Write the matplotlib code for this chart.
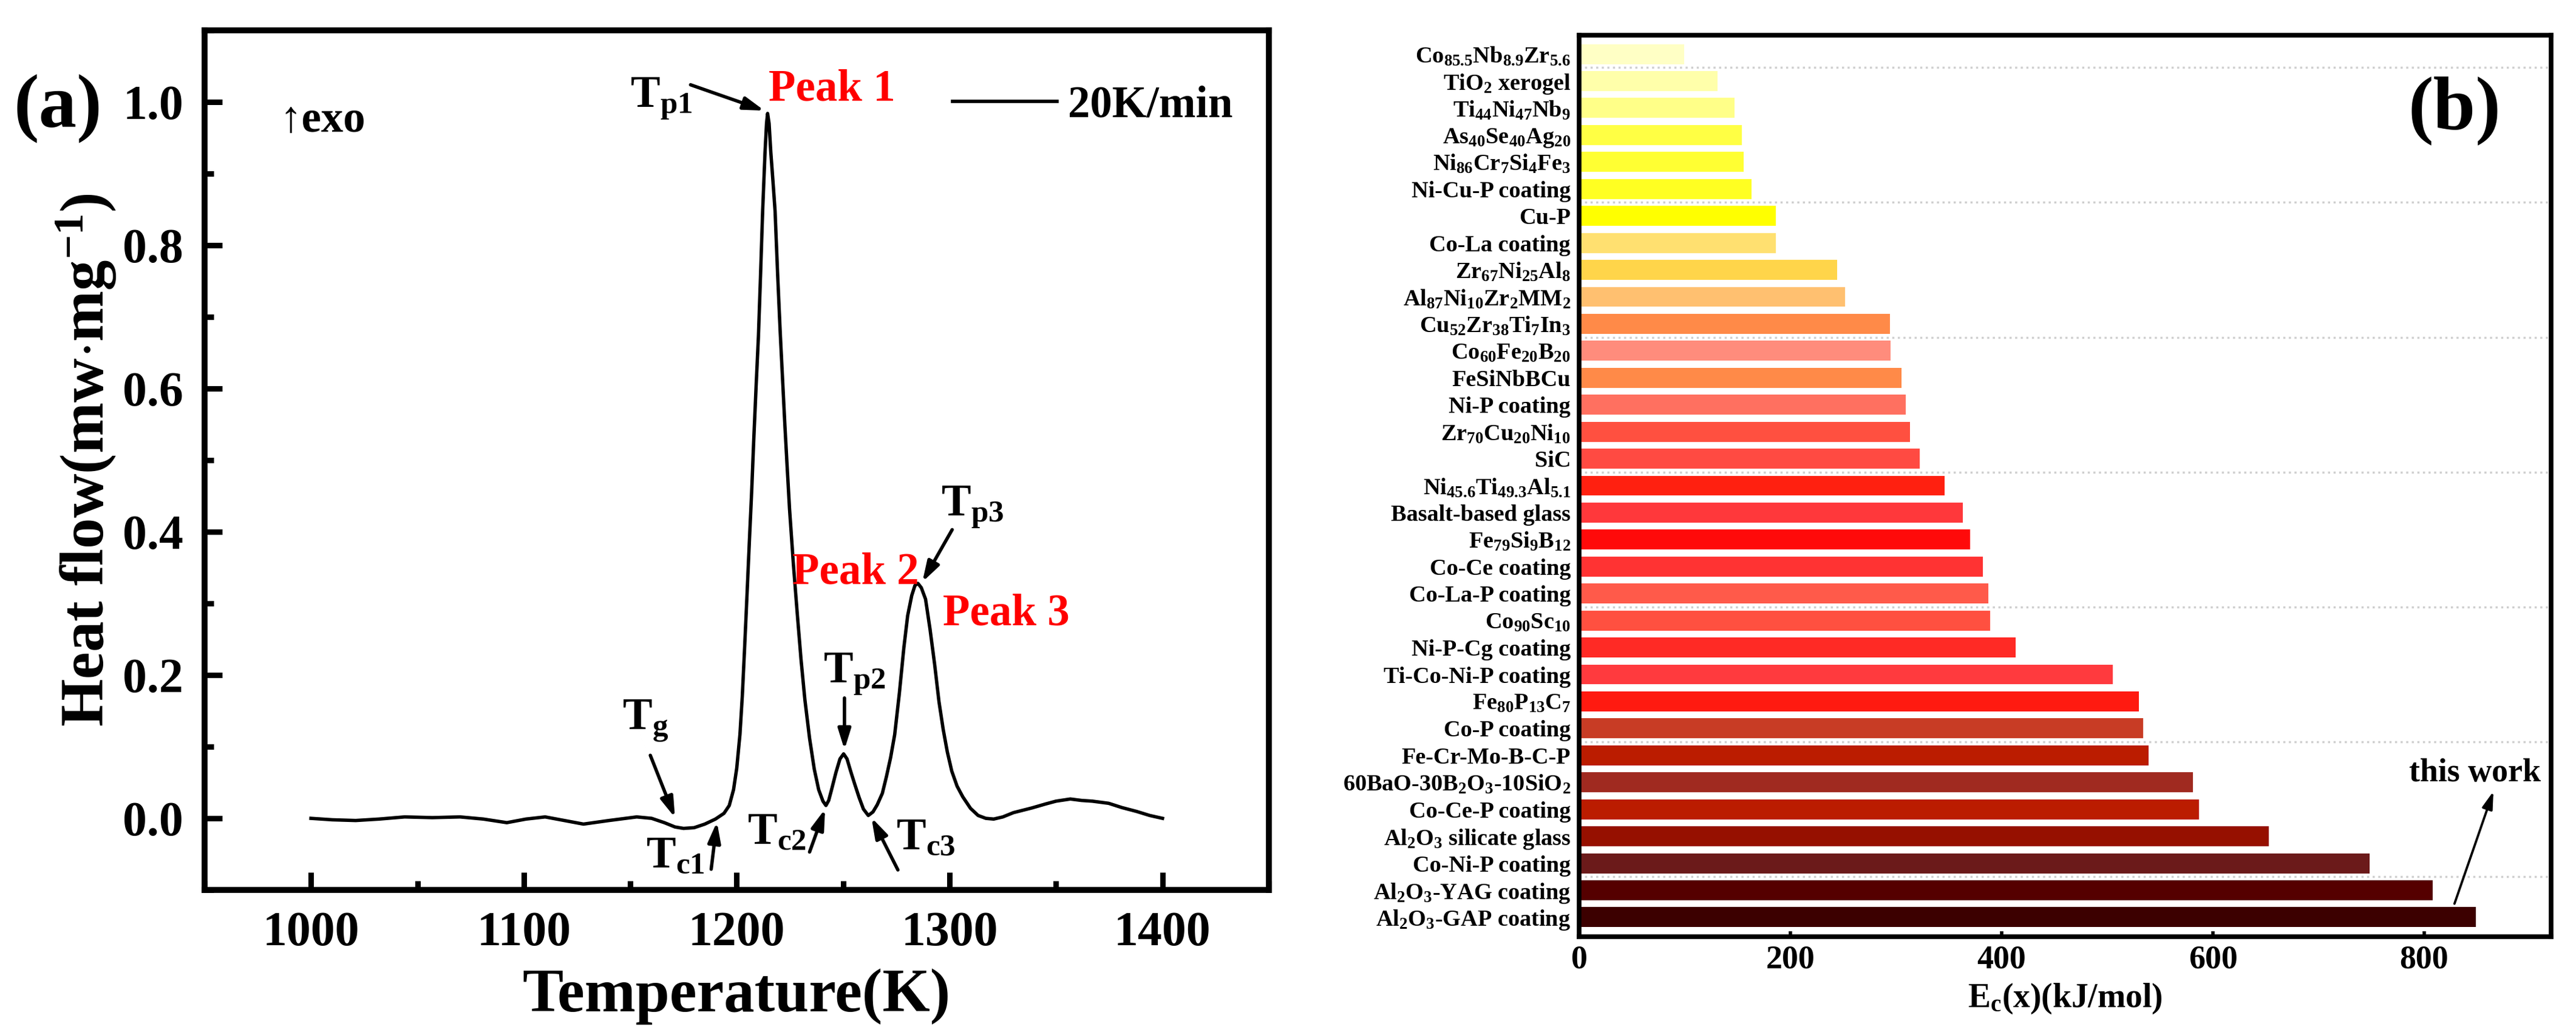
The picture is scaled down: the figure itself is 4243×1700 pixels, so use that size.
import numpy as np
import matplotlib
matplotlib.use('Agg')
import matplotlib.pyplot as plt
from matplotlib.ticker import MultipleLocator, FixedLocator

plt.rcParams['font.family'] = ['Liberation Serif', 'DejaVu Serif']
plt.rcParams['font.weight'] = 'bold'
plt.rcParams['axes.labelweight'] = 'bold'
plt.rcParams['mathtext.fontset'] = 'custom'
plt.rcParams['mathtext.rm'] = 'Liberation Serif:bold'
plt.rcParams['mathtext.it'] = 'Liberation Serif:bold'
plt.rcParams['mathtext.bf'] = 'Liberation Serif:bold'
plt.rcParams['mathtext.default'] = 'rm'

# ---- (a) DSC curve ----
temp = [1000, 1010, 1021, 1032, 1044, 1057, 1070, 1081, 1092, 1101, 1110, 1119, 1128,
        1140, 1153, 1160, 1166, 1171, 1175, 1180, 1185, 1190, 1194, 1196.5, 1198.5,
        1200, 1201.5, 1202.6, 1203.7, 1204.8, 1205.9, 1207, 1208, 1209.2, 1210.2,
        1211.2, 1212.2, 1213.3, 1214, 1214.5, 1215.2, 1216, 1217, 1218, 1219.2,
        1220.4, 1221.5, 1222.6, 1223.7, 1224.8, 1226.6, 1228.4, 1230.2, 1232,
        1234.2, 1236.4, 1238.5, 1240.5, 1241.9, 1243.2, 1244.8, 1246.6, 1248.5,
        1250.2, 1251.8, 1253.5, 1255.3, 1257.5, 1259.5, 1261.8, 1264, 1266, 1268.4,
        1270.3, 1272.3, 1274.2, 1276.4, 1278.5, 1280.3, 1282.2, 1283.7, 1285.1,
        1286.7, 1288.7, 1290.8, 1293, 1295, 1297, 1298.9, 1301, 1303.5, 1306.2,
        1309.8, 1313.4, 1317, 1320.7, 1325, 1330, 1338.6, 1345, 1350, 1356.7,
        1362, 1367, 1374.7, 1381, 1387.8, 1394, 1400]
heat = [0.000, -0.002, -0.003, -0.001, 0.002, 0.001, 0.002, -0.001, -0.006, -0.001,
        0.002, -0.003, -0.008, -0.003, 0.002, 0.000, -0.006, -0.012, -0.014, -0.013,
        -0.008, -0.001, 0.007, 0.018, 0.040, 0.070, 0.117, 0.170, 0.238, 0.310,
        0.384, 0.455, 0.529, 0.610, 0.674, 0.760, 0.850, 0.930, 0.970, 0.984,
        0.970, 0.930, 0.890, 0.848, 0.760, 0.680, 0.615, 0.550, 0.490, 0.432,
        0.355, 0.287, 0.222, 0.166, 0.112, 0.069, 0.040, 0.024, 0.018, 0.025,
        0.043, 0.064, 0.083, 0.090, 0.083, 0.066, 0.049, 0.029, 0.013, 0.004,
        0.009, 0.019, 0.035, 0.058, 0.085, 0.117, 0.175, 0.238, 0.283, 0.311,
        0.325, 0.328, 0.322, 0.306, 0.264, 0.214, 0.163, 0.124, 0.093, 0.066,
        0.045, 0.030, 0.014, 0.004, 0.000, -0.001, 0.002, 0.008, 0.0145, 0.020,
        0.024, 0.027, 0.025, 0.024, 0.021, 0.015, 0.0097, 0.004, 0.000]

# ---- (b) crystallization activation energies, top to bottom ----
materials = ['Co$_{85.5}$Nb$_{8.9}$Zr$_{5.6}$', 'TiO$_2$ xerogel', 'Ti$_{44}$Ni$_{47}$Nb$_9$',
             'As$_{40}$Se$_{40}$Ag$_{20}$', 'Ni$_{86}$Cr$_7$Si$_4$Fe$_3$', 'Ni-Cu-P coating',
             'Cu-P', 'Co-La coating', 'Zr$_{67}$Ni$_{25}$Al$_8$', 'Al$_{87}$Ni$_{10}$Zr$_2$MM$_2$',
             'Cu$_{52}$Zr$_{38}$Ti$_7$In$_3$', 'Co$_{60}$Fe$_{20}$B$_{20}$', 'FeSiNbBCu',
             'Ni-P coating', 'Zr$_{70}$Cu$_{20}$Ni$_{10}$', 'SiC',
             'Ni$_{45.6}$Ti$_{49.3}$Al$_{5.1}$', 'Basalt-based glass', 'Fe$_{79}$Si$_9$B$_{12}$',
             'Co-Ce coating', 'Co-La-P coating', 'Co$_{90}$Sc$_{10}$', 'Ni-P-Cg coating',
             'Ti-Co-Ni-P coating', 'Fe$_{80}$P$_{13}$C$_7$', 'Co-P coating', 'Fe-Cr-Mo-B-C-P',
             '60BaO-30B$_2$O$_3$-10SiO$_2$', 'Co-Ce-P coating', 'Al$_2$O$_3$ silicate glass',
             'Co-Ni-P coating', 'Al$_2$O$_3$-YAG coating', 'Al$_2$O$_3$-GAP coating']
energy = [99.5, 131, 147, 154, 156, 163, 186.5, 186, 244.5, 251.5, 294, 295, 305, 309,
          313.5, 322.5, 346, 363, 370, 382, 387.5, 389, 413, 505, 530, 534, 539, 581,
          587, 653, 748, 808, 849]
bar_colors = ['#FFFFC5', '#FFFFAA', '#FFFF88', '#FFFF44', '#FFFF33', '#FFFF22', '#FFFF00',
              '#FFE070', '#FFD54A', '#FFC070', '#FF8A48', '#FF8C7C', '#FF8A48', '#FF7060',
              '#FF5040', '#FF4A42', '#FF2010', '#FF383B', '#FF0A0A', '#FF3333', '#FF5A4A',
              '#FF5040', '#FF2A25', '#FF3A3E', '#FF1A10', '#C83C25', '#BB1C00', '#A02A20',
              '#BB1C00', '#961000', '#6B1A1A', '#550000', '#3C0000']

fig = plt.figure(figsize=(4243 / 250, 1700 / 250), dpi=250)

# ---------------- panel (a) ----------------
ax = fig.add_axes([0.0794, 0.1376, 0.4132, 0.833])
line, = ax.plot(temp, heat, color='black', lw=1.6, label='20K/min')
ax.set_xlim(950, 1450)
ax.set_ylim(-0.1, 1.1)
ax.xaxis.set_major_locator(MultipleLocator(100))
ax.xaxis.set_minor_locator(MultipleLocator(50))
ax.yaxis.set_major_locator(MultipleLocator(0.2))
ax.yaxis.set_minor_locator(MultipleLocator(0.1))
ax.yaxis.set_major_formatter(matplotlib.ticker.FormatStrFormatter('%.1f'))
ax.tick_params(which='major', direction='in', length=8.4, width=2.6, labelsize=23, pad=10)
ax.tick_params(which='minor', direction='in', length=4.4, width=2.6)
for s in ax.spines.values():
    s.set_linewidth(2.8)
ax.set_xlabel('Temperature(K)', fontsize=29, labelpad=6)
ax.set_ylabel('Heat flow(mw$\\cdot$mg$^{-1}$)', fontsize=29, labelpad=2)

ax.legend(handles=[line], loc='center right', bbox_to_anchor=(0.966, 0.912),
          frameon=False, handlelength=2.36, handletextpad=0.25, borderpad=0,
          borderaxespad=0, prop={'size': 21, 'weight': 'bold'})

ax.text(985.2, 0.959, '↑exo', fontsize=21, ha='left', va='baseline')

red_labels = [('Peak 1', 1215, 1.0025), ('Peak 2', 1226.2, 0.328), ('Peak 3', 1296.7, 0.270)]
for txt, x, y in red_labels:
    ax.text(x, y, txt, color='#FF0000', fontsize=21, ha='left', va='baseline')

marks = [('$T_{p1}$', 1150.0, 0.993, (1178.3, 1.024), (1213, 0.988)),
         ('$T_{p2}$', 1240.7, 0.190, (1250.6, 0.168), (1250.6, 0.096)),
         ('$T_{p3}$', 1296.0, 0.423, (1301.2, 0.403), (1287.2, 0.330)),
         ('$T_g$', 1146.3, 0.1245, (1159.4, 0.088), (1171, 0.001)),
         ('$T_{c1}$', 1157.5, -0.068, (1188, -0.071), (1190.7, -0.005)),
         ('$T_{c2}$', 1205.1, -0.035, (1234.2, -0.047), (1241.5, 0.013)),
         ('$T_{c3}$', 1274.9, -0.043, (1275.7, -0.072), (1263.3, 0.001))]
for txt, x, y, tail, tip in marks:
    ax.text(x, y, txt, fontsize=21, ha='left', va='baseline')
    ax.annotate('', xy=tip, xytext=tail,
                arrowprops=dict(arrowstyle='-|>,head_length=0.45,head_width=0.14',
                                mutation_scale=18, color='black', lw=1.6,
                                shrinkA=0, shrinkB=0))

fig.text(0.0224, 0.8947, '(a)', fontsize=36, ha='center', va='center')

# ---------------- panel (b) ----------------
bx = fig.add_axes([0.6130, 0.0924, 0.3773, 0.8735])
n = len(materials)
ypos = np.arange(n)[::-1]
bx.barh(ypos, energy, height=0.74, color=bar_colors, zorder=2)
bx.set_yticks(ypos)
bx.set_yticklabels(materials, fontsize=11)
bx.set_ylim(-0.72, n - 0.3)
bx.set_xlim(0, 920)
bx.xaxis.set_major_locator(MultipleLocator(200))
bx.yaxis.set_minor_locator(FixedLocator(np.arange(1.5, n, 5)))
bx.grid(which='minor', axis='y', color='#cfcfcf', ls=':', lw=1.0, zorder=0)
bx.tick_params(axis='y', which='both', length=0, pad=4)
bx.tick_params(axis='x', direction='in', length=2.6, width=1.6, labelsize=15.5, pad=4)
for s in bx.spines.values():
    s.set_linewidth(2.2)
bx.set_xlabel('$E_c$(x)(kJ/mol)', fontsize=16, labelpad=3)

bx.text(848, 5.34, 'this work', fontsize=15.5, ha='center', va='center')
bx.annotate('', xy=(865.5, 4.67), xytext=(828.6, 0.5),
            arrowprops=dict(arrowstyle='-|>,head_length=0.5,head_width=0.15',
                            mutation_scale=14, color='black', lw=1.1,
                            shrinkA=0, shrinkB=0))
bx.text(0.9007, 0.9165, '(b)', fontsize=36, ha='center', va='center',
        transform=bx.transAxes, zorder=3,
        bbox=dict(facecolor='white', edgecolor='none', pad=2))

fig.savefig('out.png', dpi=250)
